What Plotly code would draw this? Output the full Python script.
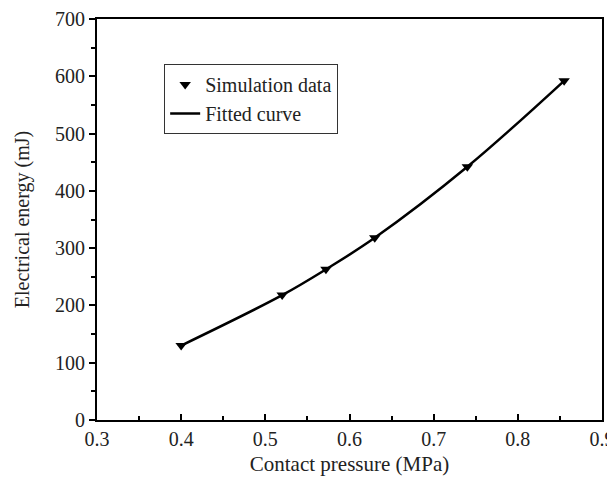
import plotly.graph_objects as go

pressure = [0.4, 0.52, 0.572, 0.63, 0.74, 0.855]
energy = [130, 218, 263, 318, 442, 592]

font_family = "Liberation Serif"

fig = go.Figure()
fig.add_trace(go.Scatter(
    x=pressure, y=energy, mode="lines", name="Fitted curve",
    line=dict(color="black", width=2.5, shape="spline", smoothing=1.0),
))
fig.add_trace(go.Scatter(
    x=pressure, y=energy, mode="markers", name="Simulation data",
    marker=dict(symbol="triangle-down", color="black", size=10),
))

fig.update_layout(
    width=607, height=476,
    margin=dict(l=89, r=13, t=11, b=64),
    paper_bgcolor="white", plot_bgcolor="white",
    font=dict(family=font_family, size=20, color="#222"),
    showlegend=True,
    legend=dict(
        x=0.133, y=0.888, xanchor="left", yanchor="top",
        bordercolor="#333", borderwidth=1, bgcolor="white",
        traceorder="reversed",
        font=dict(family=font_family, size=20, color="#222"),
        tracegroupgap=0,
    ),
    xaxis=dict(
        range=[0.3, 0.9], dtick=0.1, tick0=0.3, tickformat=".1f",
        showline=True, linecolor="black", linewidth=2, mirror=True,
        ticks="inside", ticklen=6, tickwidth=1.5, tickcolor="black",
        minor=dict(ticks="inside", ticklen=4, dtick=0.05, tickcolor="black", tickwidth=1.5),
        showgrid=False, zeroline=False, automargin=False,
        ticklabeloverflow="allow",
        title=dict(text="Contact pressure (MPa)", font=dict(size=21), standoff=7),
        tickfont=dict(size=20),
    ),
    yaxis=dict(
        range=[0, 700], dtick=100,
        showline=True, linecolor="black", linewidth=2, mirror=True,
        ticks="outside", ticklen=6, tickwidth=1.5, tickcolor="black",
        minor=dict(ticks="outside", ticklen=4, dtick=50, tickcolor="black", tickwidth=1.5),
        showgrid=False, zeroline=False, automargin=False,
        ticklabeloverflow="allow",
        title=dict(text="Electrical energy (mJ)", font=dict(size=20), standoff=20),
        tickfont=dict(size=20),
    ),
)

fig.write_html("out.html")
